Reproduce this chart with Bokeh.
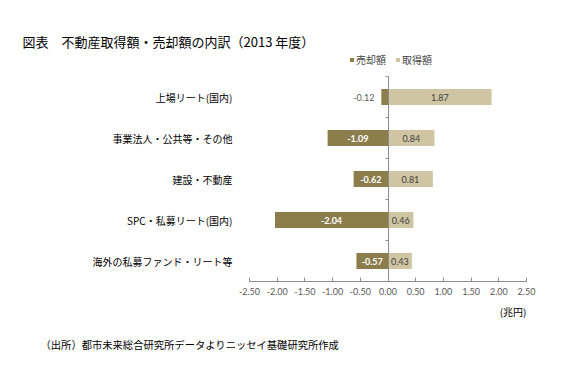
from bokeh.plotting import figure
from bokeh.models import (ColumnDataSource, Range1d, FixedTicker, LinearAxis,
                          NumeralTickFormatter, Title, Legend, LegendItem)
from bokeh.core.properties import value
from bokeh.embed import file_html
from bokeh.resources import INLINE

categories = ["上場リート(国内)", "事業法人・公共等・その他", "建設・不動産",
              "SPC・私募リート(国内)", "海外の私募ファンド・リート等"]
sold = [-0.12, -1.09, -0.62, -2.04, -0.57]
acquired = [1.87, 0.84, 0.81, 0.46, 0.43]
x_ticks = [-2.5, -2.0, -1.5, -1.0, -0.5, 0.0, 0.5, 1.0, 1.5, 2.0, 2.5]

title_text = "図表　不動産取得額・売却額の内訳（2013 年度）"
source_text = "（出所）都市未来総合研究所データよりニッセイ基礎研究所作成"
unit_text = "(兆円)"

SOLD_COLOR = "#8C7D4C"
ACQ_COLOR = "#D0C5A3"
JP = "Noto Sans CJK JP"
NUM = "Lato"

W, H = 562, 374
FL, FR, FB = 249, 526, 281      # frame left/right/bottom in canvas px
BAND_TOP = 76                   # top of the category bands
FT = 50                         # frame top (room for legend inside frame)
XMIN, XMAX = -2.5, 2.5

n = len(categories)
ypos = [n - 0.5 - i for i in range(n)]
y_top = n * (FB - FT) / (FB - BAND_TOP)

inside = [abs(v) >= 0.3 for v in sold]
src = ColumnDataSource(dict(
    y=ypos, cat=categories, sold=sold, acq=acquired,
    acq_lbl=[f"{v:.2f}" for v in acquired],
    acq_mid=[v / 2 for v in acquired],
))
src_in = ColumnDataSource(dict(
    y=[y for y, k in zip(ypos, inside) if k],
    x=[v / 2 for v, k in zip(sold, inside) if k],
    t=[f"{v:.2f}" for v, k in zip(sold, inside) if k],
))
src_out = ColumnDataSource(dict(
    y=[y for y, k in zip(ypos, inside) if not k],
    x=[v for v, k in zip(sold, inside) if not k],
    t=[f"{v:.2f}" for v, k in zip(sold, inside) if not k],
))

p = figure(width=W, height=H, output_backend="svg", toolbar_location=None,
           title=None,
           x_range=Range1d(XMIN, XMAX), y_range=Range1d(0, y_top),
           min_border_left=FL, min_border_right=W - FR, min_border_top=FT,
           min_border_bottom=H - FB, outline_line_color=None)
p.xgrid.visible = False
p.ygrid.visible = False

BAR_H = 0.39
r_sold = p.hbar(y="y", left="sold", right=0, height=BAR_H, source=src,
                fill_color=SOLD_COLOR, line_color=None)
r_acq = p.hbar(y="y", left=0, right="acq", height=BAR_H, source=src,
               fill_color=ACQ_COLOR, line_color=None)

p.text(x="x", y="y", text="t", source=src_in, text_color="white",
       text_font=value(NUM), text_font_size="9px", text_font_style="bold",
       text_align="center", text_baseline="middle")
p.text(x="x", y="y", text="t", source=src_out, text_color="#595959",
       text_font=value(NUM), text_font_size="9px",
       text_align="right", text_baseline="middle", x_offset=-7)
p.text(x="acq_mid", y="y", text="acq_lbl", source=src, text_color="#404040",
       text_font=value(NUM), text_font_size="9px",
       text_align="center", text_baseline="middle")

# x axis
xa = p.xaxis[0]
xa.ticker = FixedTicker(ticks=x_ticks)
xa.formatter = NumeralTickFormatter(format="0.00")
xa.axis_line_color = "#8C8C8C"
xa.major_tick_line_color = "#8C8C8C"
xa.major_tick_in = 4
xa.major_tick_out = 0
xa.minor_tick_line_color = None
xa.major_label_standoff = 6
xa.major_label_text_font = NUM
xa.major_label_text_font_size = "9px"
xa.major_label_text_color = "#595959"

# category labels axis
ya = p.yaxis[0]
ya.ticker = FixedTicker(ticks=ypos)
ya.major_label_overrides = {y: c for y, c in zip(ypos, categories)}
ya.axis_line_color = None
ya.major_tick_line_color = None
ya.minor_tick_line_color = None
ya.major_label_standoff = 11
ya.major_label_text_font = JP
ya.major_label_text_font_size = "10px"
ya.major_label_text_color = "#000000"

# axis line at zero, spanning only the category bands
za = LinearAxis(fixed_location=0, bounds=(0, n),
                ticker=FixedTicker(ticks=list(range(n + 1))))
za.axis_line_color = "#8C8C8C"
za.major_tick_line_color = "#8C8C8C"
za.major_tick_out = 3
za.major_tick_in = 0
za.minor_tick_line_color = None
za.major_label_text_font_size = "0px"
za.major_label_text_color = None
p.add_layout(za, "left")

legend = Legend(items=[LegendItem(label="売却額", renderers=[r_sold]),
                       LegendItem(label="取得額", renderers=[r_acq])],
                orientation="horizontal", location=(100, 214),
                glyph_width=5, glyph_height=5, label_standoff=2, spacing=9,
                padding=0, margin=0, label_height=10,
                label_text_font=JP, label_text_font_size="10px",
                background_fill_alpha=0, border_line_color=None)
p.add_layout(legend, "center")

# chart title, then a blank (white) spacer between it and the frame
p.add_layout(Title(text=title_text, align="left", offset=22 - FL,
                   text_font=JP, text_font_size="13px", text_font_style="normal",
                   text_color="#000000", standoff=0), "above")
p.add_layout(Title(text="　", text_font=JP, text_font_size="10px",
                   text_color="#FFFFFF", standoff=12), "above")
p.add_layout(Title(text=unit_text, align="right", offset=0,
                   text_font=JP, text_font_size="10px", text_font_style="normal",
                   text_color="#000000", standoff=9), "below")
p.add_layout(Title(text=source_text, align="left", offset=40 - FL,
                   text_font=JP, text_font_size="10.3px", text_font_style="normal",
                   text_color="#000000", standoff=22), "below")

open("out.html", "w").write(file_html(p, INLINE))
